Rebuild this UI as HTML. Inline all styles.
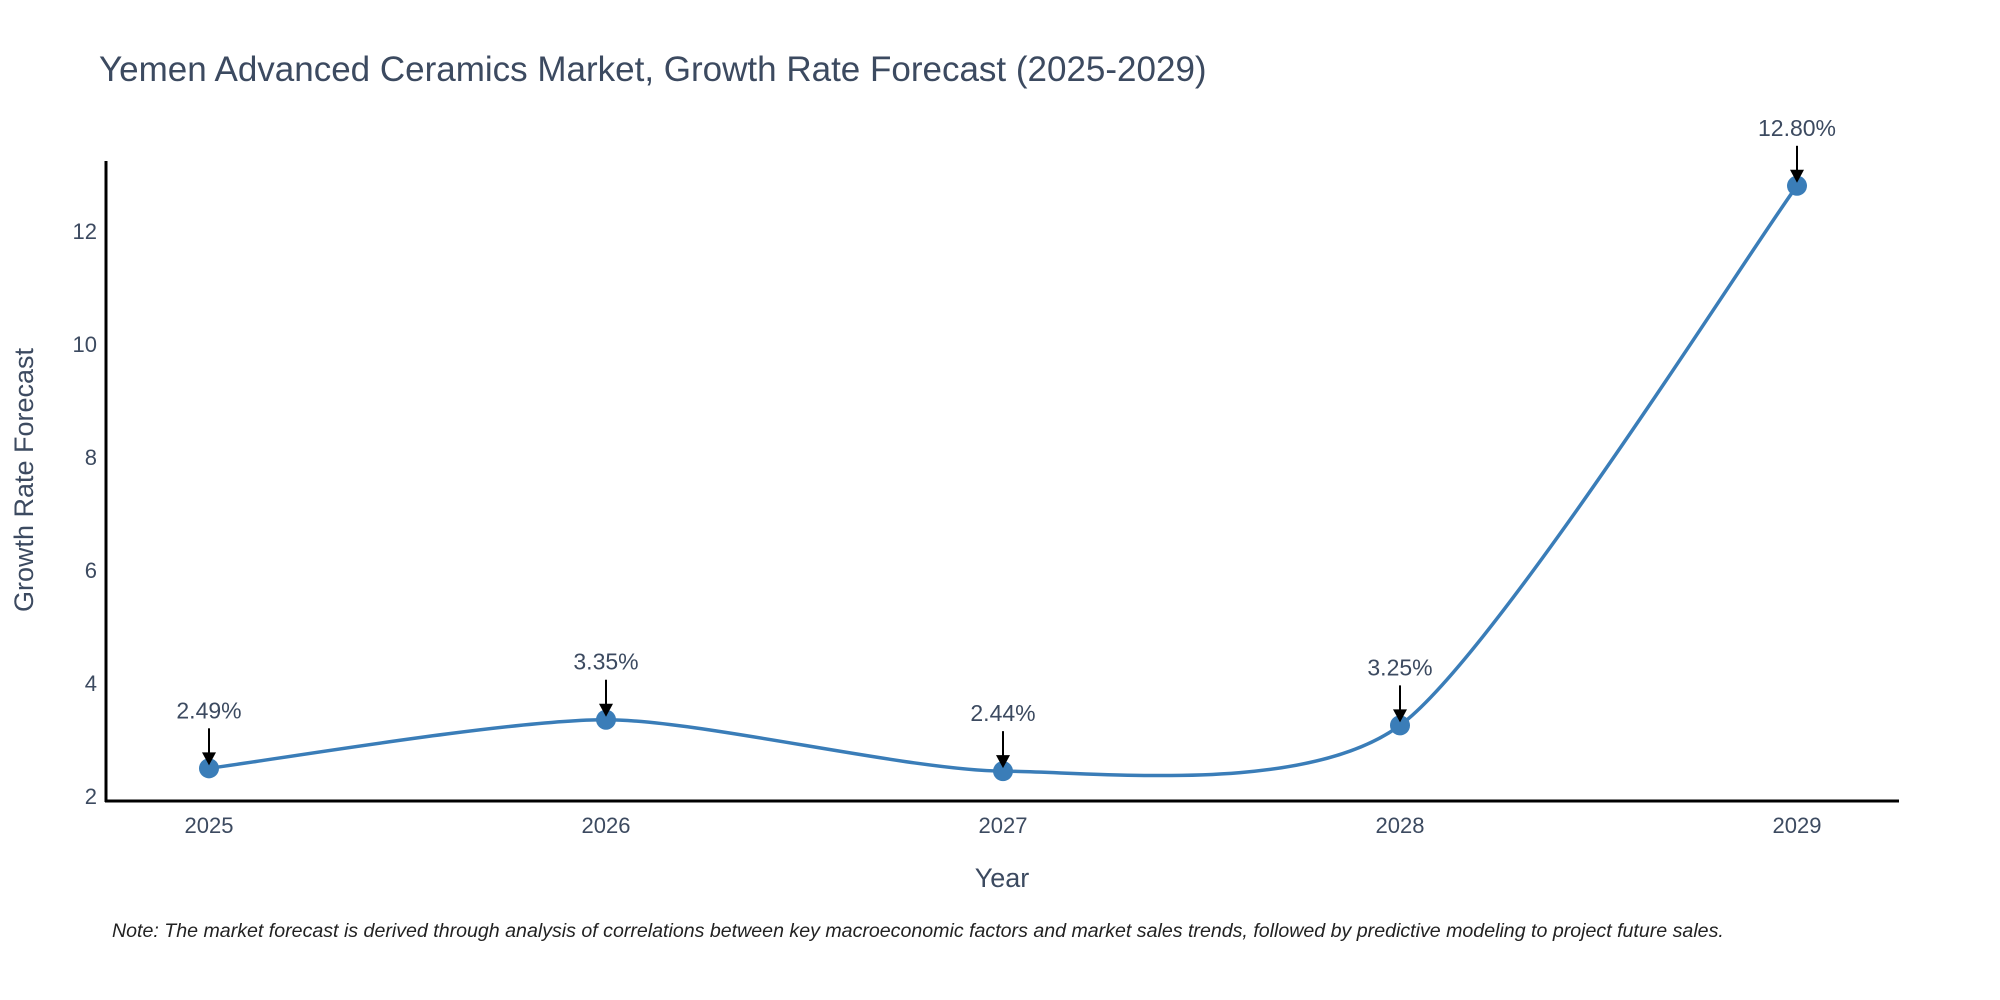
<!DOCTYPE html>
<html><head><meta charset="utf-8"><style>
html,body{margin:0;padding:0;background:#fff;}
svg{display:block;font-family:"Liberation Sans",sans-serif;}
</style></head><body>
<svg id="chart" width="2000" height="1000" viewBox="0 0 2000 1000">
<text x="99" y="81" font-size="35" fill="#3c4a60">Yemen Advanced Ceramics Market, Growth Rate Forecast (2025-2029)</text>
<g id="yticks"></g>
<g id="xticks"></g>
<line x1="106" y1="161" x2="106" y2="802" stroke="#000" stroke-width="3"/>
<line x1="105" y1="801" x2="1899" y2="801" stroke="#000" stroke-width="3"/>
<g id="series"></g>
<g id="annots"></g>
<text x="1002" y="887" font-size="27" fill="#3c4a60" text-anchor="middle">Year</text>
<text transform="translate(33,480) rotate(-90)" font-size="27" fill="#3c4a60" text-anchor="middle">Growth Rate Forecast</text>
<text x="112" y="937" font-size="19.6" font-style="italic" fill="#222">Note: The market forecast is derived through analysis of correlations between key macroeconomic factors and market sales trends, followed by predictive modeling to project future sales.</text>
</svg>
<script>
const years = [2025, 2026, 2027, 2028, 2029];
const growthValues = [2.49, 3.35, 2.44, 3.25, 12.80];
const yTickValues = [2, 4, 6, 8, 10, 12];

const NS = "http://www.w3.org/2000/svg";
function xScale(yr){ return 209 + (yr - 2025) * 397; }
function yScale(v){ return 796 - (v - 2) * 56.5; }
function mk(tag, attrs, parent){
  const e = document.createElementNS(NS, tag);
  for (const k in attrs) e.setAttribute(k, attrs[k]);
  parent.appendChild(e); return e;
}
const yt = document.getElementById('yticks');
yTickValues.forEach(v => {
  const t = mk('text', {x: 97, y: yScale(v) + 8, 'font-size': 22, fill: '#3c4a60', 'text-anchor': 'end'}, yt);
  
  
  t.textContent = v;
});
const xt = document.getElementById('xticks');
years.forEach(yr => {
  const t = mk('text', {x: xScale(yr), y: 833, 'font-size': 22, fill: '#3c4a60', 'text-anchor': 'middle'}, xt);
  
  
  t.textContent = yr;
});
const pts = years.map((yr, i) => [xScale(yr), yScale(growthValues[i])]);
let d = 'M' + pts[0][0] + ',' + pts[0][1];
const s = 0.12;
for (let i = 0; i < pts.length - 1; i++) {
  const p0 = pts[Math.max(i - 1, 0)], p1 = pts[i], p2 = pts[i + 1], p3 = pts[Math.min(i + 2, pts.length - 1)];
  const c1 = [p1[0] + (p2[0] - p0[0]) * s, p1[1] + (p2[1] - p0[1]) * s];
  const c2 = [p2[0] - (p3[0] - p1[0]) * s, p2[1] - (p3[1] - p1[1]) * s];
  d += ' C' + c1 + ' ' + c2 + ' ' + p2;
}
const ser = document.getElementById('series');
const path = mk('path', {d: d, fill: 'none', stroke: '#3a7db8', 'stroke-width': 3.5}, ser);


const an = document.getElementById('annots');
pts.forEach((p, i) => {
  const c = mk('circle', {cx: p[0], cy: p[1], r: 10, fill: '#3a7db8'}, ser);
  
  
  const l = mk('line', {x1: p[0], y1: p[1] - 40, x2: p[0], y2: p[1] - 14, stroke: '#000', 'stroke-width': 2}, an);
  
  
  const h = mk('path', {d: 'M' + (p[0] - 7) + ',' + (p[1] - 16) + ' L' + (p[0] + 7) + ',' + (p[1] - 16) + ' L' + p[0] + ',' + (p[1] - 3) + ' Z', fill: '#000'}, an);
  
  
  const t = mk('text', {x: p[0], y: p[1] - 50, 'font-size': 23, fill: '#3c4a60', 'text-anchor': 'middle'}, an);
  
  
  t.textContent = growthValues[i].toFixed(2) + '%';
});
</script>
</body></html>
